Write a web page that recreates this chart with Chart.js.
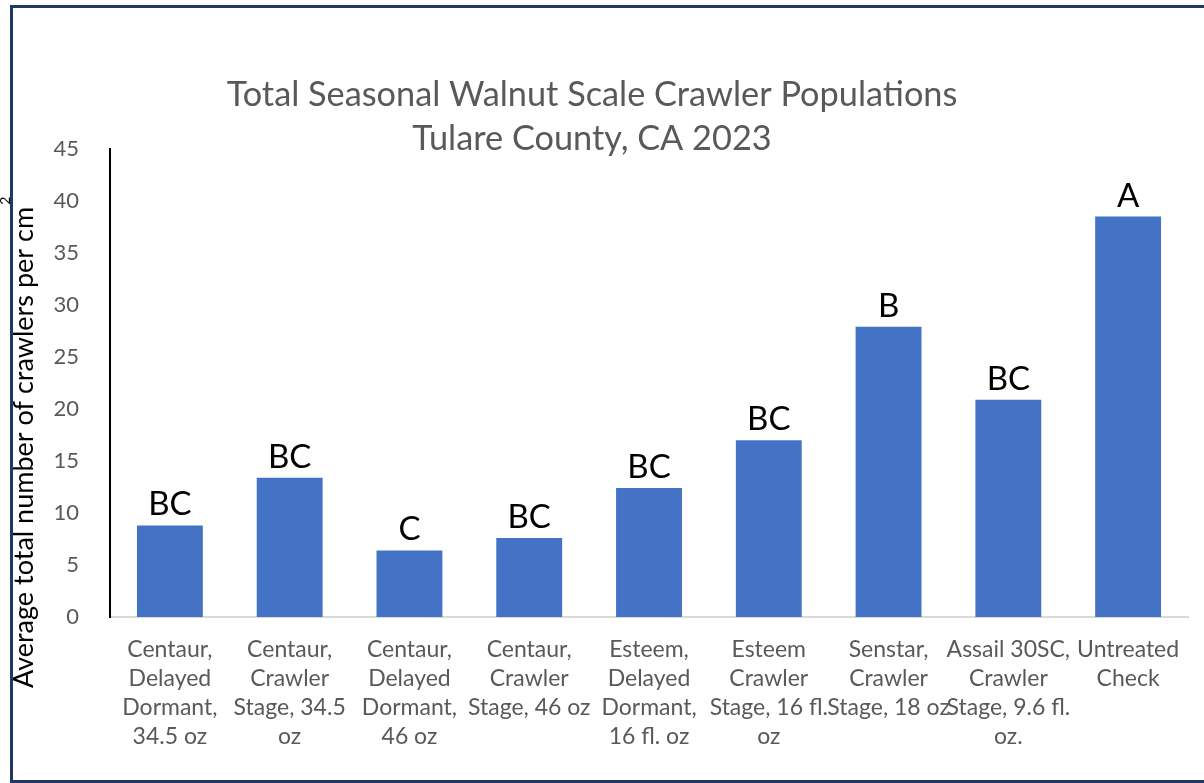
<!DOCTYPE html>
<html>
<head>
<meta charset="utf-8">
<script src="https://cdn.jsdelivr.net/npm/chart.js@4"></script>
<style>
  html, body { margin: 0; padding: 0; background: #fff; }
  #wrap { position: relative; width: 1204px; height: 783px; }
  #frame {
    position: absolute; left: 10px; top: 5px; width: 1200px; height: 772px;
    border-left: 3px solid #1f3864; border-top: 3px solid #1f3864; border-bottom: 3px solid #1f3864;
    pointer-events: none;
  }
</style>
</head>
<body>
<div id="wrap">
  <canvas id="chart"></canvas>
  <div id="frame"></div>
</div>
<script>
// treatments (multi-line tick labels)
const categories = [
  ["Centaur,", "Delayed", "Dormant,", "34.5 oz"],
  ["Centaur,", "Crawler", "Stage, 34.5", "oz"],
  ["Centaur,", "Delayed", "Dormant,", "46 oz"],
  ["Centaur,", "Crawler", "Stage, 46 oz"],
  ["Esteem,", "Delayed", "Dormant,", "16 fl. oz"],
  ["Esteem", "Crawler", "Stage, 16 fl.", "oz"],
  ["Senstar,", "Crawler", "Stage, 18 oz"],
  ["Assail 30SC,", "Crawler", "Stage, 9.6 fl.", "oz."],
  ["Untreated", "Check"]
];
const crawlers = [8.8, 13.4, 6.4, 7.6, 12.4, 17.0, 27.9, 20.9, 38.5];
const letters = ["BC", "BC", "C", "BC", "BC", "BC", "B", "BC", "A"];
const yTicks = [0, 5, 10, 15, 20, 25, 30, 35, 40, 45];

const titleLines = ["Total Seasonal Walnut Scale Crawler Populations", "Tulare County, CA 2023"];
const yTitle = "Average total number of crawlers per cm";

const FONT = "Lato, 'Open Sans', sans-serif";

// letters above each bar
const letterPlugin = {
  id: "letters",
  afterDatasetsDraw(chart) {
    const ctx = chart.ctx;
    const meta = chart.getDatasetMeta(0);
    ctx.save();
    ctx.font = "33px " + FONT;
    ctx.fillStyle = "#000";
    ctx.textAlign = "center";
    ctx.textBaseline = "alphabetic";
    meta.data.forEach((bar, i) => {
      ctx.fillText(letters[i], bar.x, bar.y - 10);
    });
    ctx.restore();
  }
};

// title and rotated y-axis title with superscript
const textPlugin = {
  id: "texts",
  afterDraw(chart) {
    const ctx = chart.ctx;
    ctx.save();
    ctx.fillStyle = "#595959";
    ctx.font = "34.3px " + FONT;
    ctx.textAlign = "center";
    ctx.textBaseline = "alphabetic";
    ctx.fillText(titleLines[0], 592, 106);
    ctx.fillText(titleLines[1], 592, 150);

    ctx.translate(33, 688);
    ctx.rotate(-Math.PI / 2);
    ctx.fillStyle = "#000";
    ctx.font = "27px " + FONT;
    ctx.textAlign = "left";
    ctx.fillText(yTitle, 0, 0);
    const w = ctx.measureText(yTitle).width;
    ctx.font = "14px " + FONT;
    ctx.fillText("2", w + 2, -23);
    ctx.restore();
  }
};

new Chart(document.getElementById("chart").getContext("2d"), {
  type: "bar",
  data: {
    labels: categories,
    datasets: [
      {
        data: crawlers,
        backgroundColor: "#4472c4",
        borderWidth: 0,
        categoryPercentage: 1,
        barPercentage: 0.55,
      },
    ],
  },
  options: {
    responsive: true,
    maintainAspectRatio: false,
    animation: false,
    layout: { padding: { left: 0, top: 149, right: 16, bottom: 0 } },
    plugins: {
      legend: { display: false },
      title: { display: false },
      tooltip: { enabled: false },
    },
    scales: {
      x: {
        grid: { display: false },
        border: { display: true, color: "#d9d9d9", width: 2 },
        ticks: {
          color: "#595959",
          font: { family: FONT, size: 23, lineHeight: 1.26 },
          padding: 10,
          maxRotation: 0,
          autoSkip: false,
        },
        afterFit(scale) { scale.height = 166; },
      },
      y: {
        min: 0,
        max: 45,
        grid: { display: false },
        border: { display: true, color: "#000", width: 2 },
        afterBuildTicks(scale) { scale.ticks = yTicks.map(v => ({ value: v })); },
        ticks: {
          color: "#595959",
          font: { family: FONT, size: 22 },
          padding: 23,
        },
        afterFit(scale) { scale.width = 110; },
      },
    },
  },
  plugins: [letterPlugin, textPlugin],
});
</script>
</body>
</html>
